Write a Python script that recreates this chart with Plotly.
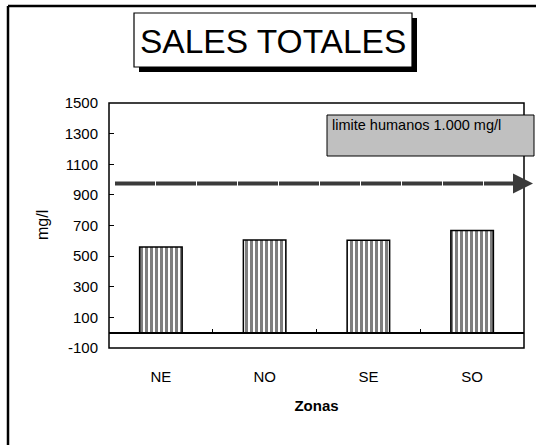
import plotly.graph_objects as go

zonas = ["NE", "NO", "SE", "SO"]
sales = [560, 606, 603, 668]
limit_line = 975
limit_text = "limite humanos 1.000 mg/l"
title_text = "SALES TOTALES"
y_ticks = [-100, 100, 300, 500, 700, 900, 1100, 1300, 1500]
y_tick_text = ["-100", "100", "300", "500", "700", "900", "1100", "1300", "1500"]
y_min, y_max = -100, 1500

FONT = "Liberation Sans, Arial, sans-serif"
W, H = 536, 445
L, R, T, B = 109, 12, 103, 97
pw, ph = W - L - R, H - T - B

def px(x):
    return (x - L) / pw

def py(y):
    return (H - B - y) / ph

fig = go.Figure()
fig.add_trace(go.Bar(
    x=zonas, y=sales, width=0.41,
    marker=dict(color="white", line=dict(color="black", width=1.5),
                pattern=dict(shape="|", fgcolor="black", bgcolor="white",
                             size=5, solidity=0.6)),
    showlegend=False, hoverinfo="skip",
))
# invisible trace to host the zero-line tick axis
fig.add_trace(go.Scatter(x=[-0.5, 3.5], y=[0, 0], xaxis="x2", mode="lines",
                         line=dict(width=0), showlegend=False, hoverinfo="skip"))

zero_pos = (0 - y_min) / (y_max - y_min)

shapes = [
    # outer page border (left + top)
    dict(type="line", xref="paper", yref="paper", x0=px(8), x1=px(8), y0=py(6), y1=py(460),
         line=dict(color="black", width=2.5)),
    dict(type="line", xref="paper", yref="paper", x0=px(8), x1=px(560), y0=py(6), y1=py(6),
         line=dict(color="black", width=2.5)),
    # plot frame
    dict(type="rect", xref="paper", yref="paper", x0=0, x1=1, y0=0, y1=1,
         line=dict(color="black", width=1.5), layer="above"),
    # limit line
    dict(type="line", xref="paper", yref="y", x0=px(115), x1=px(520), y0=limit_line, y1=limit_line,
         line=dict(color="#3a3a3a", width=4, dash="40px,1px")),
    # label box
    dict(type="rect", xref="paper", yref="paper", x0=px(327), x1=px(534), y0=py(156), y1=py(115),
         fillcolor="#c0c0c0", line=dict(color="black", width=1)),
    # title shadow and box
    dict(type="rect", xref="paper", yref="paper", x0=px(139), x1=px(417), y0=py(72), y1=py(18),
         fillcolor="black", line=dict(width=0)),
    dict(type="rect", xref="paper", yref="paper", x0=px(134), x1=px(412), y0=py(67), y1=py(13),
         fillcolor="white", line=dict(color="black", width=1.2)),
]

annotations = [
    dict(text=title_text, xref="paper", yref="paper", x=px(273), y=py(41),
         xanchor="center", yanchor="middle", showarrow=False,
         font=dict(family=FONT, size=33.5, color="black")),
    dict(text=limit_text, xref="paper", yref="paper", x=px(330), y=py(115),
         xanchor="left", yanchor="top", showarrow=False,
         font=dict(family=FONT, size=14.5, color="black")),
    # arrow head
    dict(text="", xref="paper", yref="y", x=px(533), y=limit_line,
         axref="pixel", ax=-14, ayref="pixel", ay=0, showarrow=True,
         arrowhead=2, arrowsize=1.0, arrowwidth=4, arrowcolor="#3a3a3a"),
    dict(text="mg/l", xref="paper", yref="paper", x=px(42), y=py(225),
         xanchor="center", yanchor="middle", textangle=-90, showarrow=False,
         font=dict(family=FONT, size=16, color="black")),
]

fig.update_layout(
    width=W, height=H,
    margin=dict(l=L, r=R, t=T, b=B, pad=0),
    paper_bgcolor="white", plot_bgcolor="white",
    font=dict(family=FONT, size=15, color="black"),
    bargap=0.59,
    xaxis=dict(type="category", showline=False, ticks="", showgrid=False,
               tickfont=dict(size=15), ticklabelstandoff=18,
               title=dict(text="<b>Zonas</b>", font=dict(size=15), standoff=16),
               range=[-0.5, 3.5]),
    xaxis2=dict(overlaying="x", anchor="free", position=zero_pos, range=[-0.5, 3.5],
                tickvals=[0.5, 1.5, 2.5], ticks="inside", ticklen=4, tickwidth=1,
                tickcolor="black", showticklabels=False, showgrid=False,
                showline=False, zeroline=False),
    yaxis=dict(range=[y_min, y_max], tickvals=y_ticks, ticktext=y_tick_text,
               ticks="inside", ticklen=5, ticklabelstandoff=10,
               tickcolor="black", showgrid=False, zeroline=True, zerolinecolor="black",
               zerolinewidth=2, showline=False, tickfont=dict(size=15)),
    shapes=shapes, annotations=annotations,
)

fig.write_html("out.html")
